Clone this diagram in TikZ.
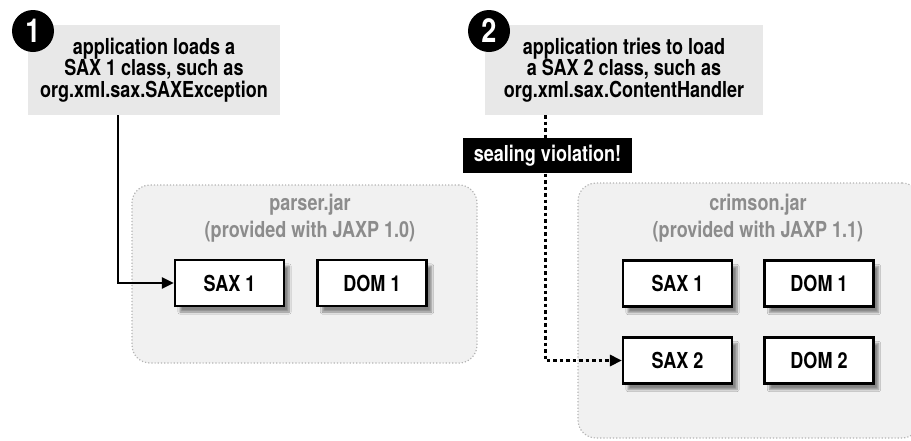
\documentclass[tikz,border=0pt]{standalone}
\usepackage{fontspec}
\setmainfont{TeX Gyre Heros}[FakeStretch=0.82]
\usetikzlibrary{arrows.meta,positioning,shadows.blur}
\definecolor{cNote}{HTML}{E8E8E8}
\definecolor{cJar}{HTML}{F1F1F1}
\definecolor{cJarLine}{HTML}{B4B4B4}
\definecolor{cTitle}{HTML}{8C8C8C}

\begin{document}
\begin{tikzpicture}[
    x=1pt, y=-1pt,
    font=\fontsize{22}{21.5}\selectfont\bfseries,
    >={Triangle[length=12pt, width=11pt]},
    note/.style={fill=cNote, align=center, inner sep=0pt, minimum height=90pt},
    jar/.style={draw=cJarLine, line width=1.2pt, dotted, fill=cJar,
                rounded corners=18pt, inner sep=0pt},
    jartitle/.style={text=cTitle, align=center,
                     font=\fontsize{22}{27}\selectfont\bfseries},
    pkg/.style={draw, line width=2.2pt, fill=white, inner sep=0pt,
                minimum width=109pt, minimum height=46pt,
                blur shadow={shadow xshift=5pt, shadow yshift=-6pt,
                             shadow blur steps=8, shadow opacity=45}},
    num/.style={circle, fill=black, text=white, minimum size=42pt, inner sep=0pt,
                font=\fontsize{33}{33}\selectfont\bfseries},
    warn/.style={fill=black, text=white, inner sep=0pt,
                 minimum width=169pt, minimum height=35pt},
    arr/.style={->, line width=2.6pt}
]
\useasboundingbox (0,0) rectangle (911,440);

% --- jar files ---
\node[jar, minimum width=345pt, minimum height=178pt] (parser) at (304.5,274) {};
\node[jartitle] (parsertitle) at (310,218.5) {parser.jar\\(provided with JAXP 1.0)};
\node[jar, minimum width=342pt, minimum height=255pt] (crimson) at (749,310.5) {};
\node[jartitle] (crimsontitle) at (758,218.5) {crimson.jar\\(provided with JAXP 1.1)};

% --- classes ---
\node[pkg] (saxa) at (229.5,283) {SAX 1};
\node[pkg] (doma) at (372,283) {DOM 1};
\node[pkg] (saxb) at (677.5,283.5) {SAX 1};
\node[pkg] (domb) at (819,283.5) {DOM 1};
\node[pkg] (saxc) at (677.5,360.5) {SAX 2};
\node[pkg] (domc) at (819,360.5) {DOM 2};

% --- steps ---
\node[note, minimum width=252pt] (stepa) at (154,70)
  {application loads a\\SAX 1 class, such as\\org.xml.sax.SAXException};
\node[num] (numa) at (33,31) {1};
\node[note, minimum width=278pt] (stepb) at (624,70)
  {application tries to load\\a SAX 2 class, such as\\org.xml.sax.ContentHandler};
\node[num] (numb) at (489,31) {2};

% --- arrows ---
\draw[arr] ([xshift=-36pt]stepa.south) |- (saxa.west);
\draw[arr, line width=3pt, dash pattern=on 3.5pt off 3pt]
  ([xshift=-79pt]stepb.south) |- (saxc.west);

% violation label
\node[warn] (seal) at (547.5,155.5) {sealing violation!};

\end{tikzpicture}
\end{document}
